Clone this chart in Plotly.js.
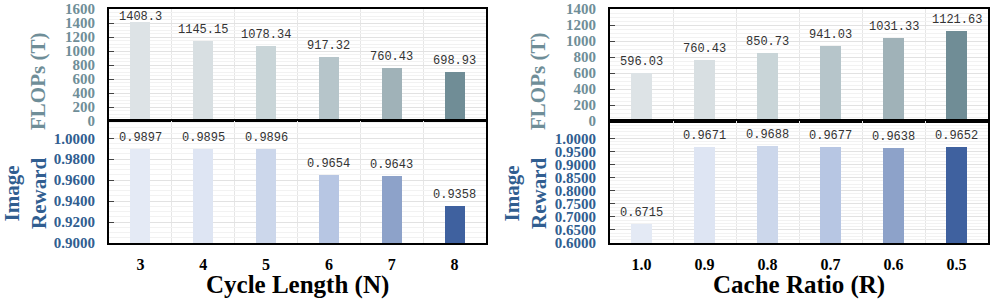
<!DOCTYPE html>
<html><head><meta charset="utf-8">
<script src="https://cdn.plot.ly/plotly-3.0.1.min.js"></script>
<style>html,body{margin:0;padding:0;background:#fff}#chart{width:996px;height:303px}</style>
</head><body><div id="chart"></div>
<script>
// ---- data ----
const cycleLabels = ['3','4','5','6','7','8'];
const cycleFlops = [1408.3, 1145.15, 1078.34, 917.32, 760.43, 698.93];
const cycleReward = [0.9897, 0.9895, 0.9896, 0.9654, 0.9643, 0.9358];
const cycleFlopsText = ['1408.3','1145.15','1078.34','917.32','760.43','698.93'];
const cycleRewardText = ['0.9897','0.9895','0.9896','0.9654','0.9643','0.9358'];

const ratioLabels = ['1.0','0.9','0.8','0.7','0.6','0.5'];
const ratioFlops = [596.03, 760.43, 850.73, 941.03, 1031.33, 1121.63];
const ratioReward = [0.6715, 0.9671, 0.9688, 0.9677, 0.9638, 0.9652];
const ratioFlopsText = ['596.03','760.43','850.73','941.03','1031.33','1121.63'];
const ratioRewardText = ['0.6715','0.9671','0.9688','0.9677','0.9638','0.9652'];

const cycleRewardTicks = [0.90, 0.92, 0.94, 0.96, 0.98, 1.00];
const ratioRewardTicks = [0.60, 0.65, 0.70, 0.75, 0.80, 0.85, 0.90, 0.95, 1.00];

// ---- styles ----
const flopsColors = ['#dde3e6','#d8dfe2','#c9d5d8','#b6c5ca','#a0b2b8','#708d96'];
const rewardColors = ['#e4eaf5','#dee5f3','#ccd7eb','#b7c6e3','#8da2c9','#3f619f'];
const topColor = '#6f8e98';
const botColor = '#315e90';
const serif = '"Liberation Serif", "Times New Roman", serif';
const mono = '"Liberation Mono", "Courier New", monospace';

const W = 996, H = 303;
const idx = cycleLabels.map((_, i) => i);

function bar(y, colors, xa, ya) {
  return {type:'bar', x: idx, y: y, xaxis: xa, yaxis: ya, width: 0.32,
    marker:{color: colors, line:{width:0}}, hoverinfo:'skip'};
}
const traces = [
  bar(cycleFlops, flopsColors, 'x', 'y'),
  bar(cycleReward, rewardColors, 'x2', 'y2'),
  bar(ratioFlops, flopsColors, 'x3', 'y3'),
  bar(ratioReward, rewardColors, 'x4', 'y4'),
];

const domL = [109/W, 486/W], domR = [610/W, 988/W];
const domTop = [(H-121)/H, (H-9)/H], domBot = [(H-243)/H, (H-121)/H];
const rTopL = [0, 1600], rTopR = [0, 1400], rBotL = [0.9, 1.0165], rBotR = [0.6, 1.066];

const annotations = [];
// value labels above bars; keep them inside the frame when a bar reaches near the top
function labels(vals, texts, xr, yr, range, dom) {
  const pxPerUnit = (dom[1] - dom[0]) * H / (range[1] - range[0]);
  vals.forEach((v, i) => {
    const room = (range[1] - v) * pxPerUnit;
    const shift = Math.min(11, room - 8);
    annotations.push({x: idx[i], y: v, xref: xr, yref: yr, text: texts[i],
      showarrow:false, yanchor:'middle', yshift: shift, font:{family: mono, size: 12, color:'#333'}});
  });
}
labels(cycleFlops, cycleFlopsText, 'x', 'y', rTopL, domTop);
labels(cycleReward, cycleRewardText, 'x2', 'y2', rBotL, domBot);
labels(ratioFlops, ratioFlopsText, 'x3', 'y3', rTopR, domTop);
labels(ratioReward, ratioRewardText, 'x4', 'y4', rBotR, domBot);

function ytitle(text, x, y, color) {
  annotations.push({text: text, xref:'paper', yref:'paper', x: x, y: y, showarrow:false,
    textangle:-90, xanchor:'center', yanchor:'middle',
    font:{family: serif, size: 21, color: color}});
}
ytitle('<b>FLOPs (T)</b>', 38/W, (H-82)/H, topColor);
ytitle('<b>Image<br>Reward</b>', 25/W, (H-194)/H, botColor);
ytitle('<b>FLOPs (T)</b>', 538/W, (H-82)/H, topColor);
ytitle('<b>Image<br>Reward</b>', 525/W, (H-194)/H, botColor);

function xtitle(text, dom) {
  annotations.push({text: '<b>'+text+'</b>', xref:'paper', yref:'paper', x: (dom[0]+dom[1])/2,
    y: (H-285)/H, xanchor:'center', yanchor:'middle', showarrow:false,
    font:{family: serif, size: 25, color:'#000'}});
}
xtitle('Cycle Length (N)', domL);
xtitle('Cache Ratio (R)', domR);

function xax(dom, anchor, labelsArr, show) {
  return {domain: dom, anchor: anchor, range:[-0.5, 5.5], tickmode:'array', tickvals: idx,
    ticktext: labelsArr, showticklabels: show, showgrid:false, zeroline:false,
    showline:true, mirror:true, linecolor:'#000', linewidth:2, ticks:'',
    tickfont:{family: serif, size: 16, color:'#000', weight:'bold'},
    ticklabelstandoff: 6,
    minor:{tick0:0.5, dtick:1, showgrid:true, gridcolor:'#e6e6e6', gridwidth:1, ticks:''}};
}
function yax(dom, anchor, range, tickvals, fmt, color, minorStep) {
  return {domain: dom, anchor: anchor, range: range, tickmode:'array', tickvals: tickvals, tickformat: fmt,
    showgrid:true, gridcolor:'#e2e2e2', gridwidth:1, zeroline:false,
    showline:true, mirror:true, linecolor:'#000', linewidth:2,
    ticks:'inside', ticklen:5, tickcolor:'#444', ticklabelstandoff: 9,
    tickfont:{family: serif, size: 15, color: color, weight:'bold'},
    minor:{tick0: range[0], dtick: minorStep, showgrid:true, gridcolor:'#f2f2f2', gridwidth:1, ticks:''}};
}
function steps(lo, hi, d) { const out = []; for (let v = lo; v <= hi + 1e-9; v += d) out.push(+v.toFixed(4)); return out; }

const layout = {
  width: W, height: H, margin:{l:0, r:0, t:0, b:0},
  paper_bgcolor:'#fff', plot_bgcolor:'#fff', showlegend:false, bargap:0,
  xaxis: xax(domL, 'y', cycleLabels, false),
  yaxis: yax(domTop, 'x', rTopL, steps(0, 1600, 200), 'd', topColor, 50),
  xaxis2: xax(domL, 'y2', cycleLabels, true),
  yaxis2: yax(domBot, 'x2', rBotL, cycleRewardTicks, '.4f', botColor, 0.005),
  xaxis3: xax(domR, 'y3', ratioLabels, false),
  yaxis3: yax(domTop, 'x3', rTopR, steps(0, 1400, 200), 'd', topColor, 50),
  xaxis4: xax(domR, 'y4', ratioLabels, true),
  yaxis4: yax(domBot, 'x4', rBotR, ratioRewardTicks, '.4f', botColor, 0.0125),
  annotations: annotations
};
Plotly.newPlot('chart', traces, layout, {staticPlot:true});
</script></body></html>
